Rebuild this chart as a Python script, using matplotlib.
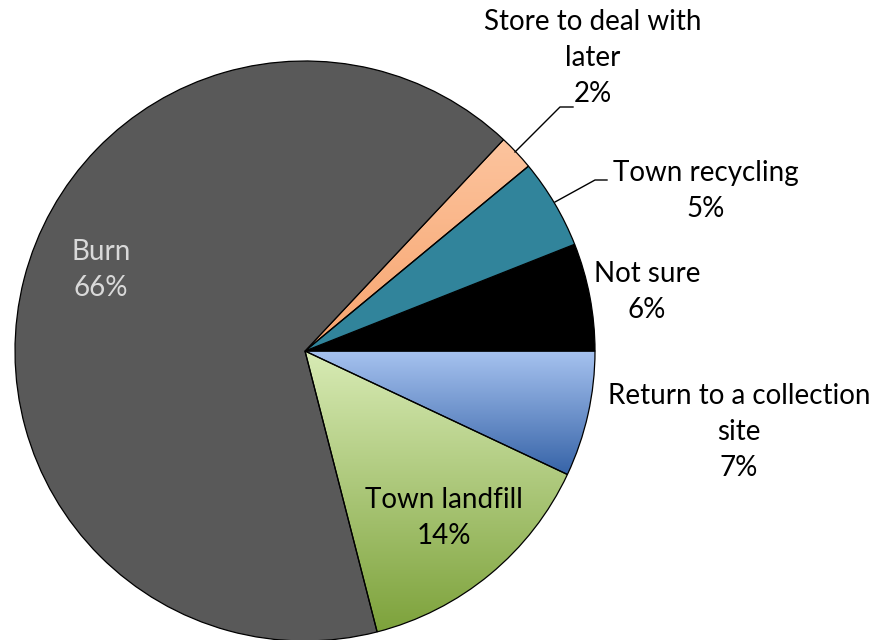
import numpy as np
import matplotlib
matplotlib.use("Agg")
import matplotlib.pyplot as plt
from matplotlib.colors import LinearSegmentedColormap

# slices, counter-clockwise from 3 o'clock
labels = ["Not sure", "Town recycling", "Store to deal with\nlater", "Burn",
          "Town landfill", "Return to a collection\nsite"]
shares = [6, 5, 2, 66, 14, 7]
colors = ["#000000", "#31849B", "#FAB68A", "#595959", "#C3DB95", "#8FB0E3"]
# top / bottom colours for the gradient slices
gradients = {2: ("#FCC49E", "#F7A46E"),
             4: ("#D8EBB5", "#7DA23B"),
             5: ("#A7C3F0", "#3764A8")}

W, H = 885, 640
cx, cy, R = 305, 351, 290

fig = plt.figure(figsize=(W / 100, H / 100), dpi=100)
ax = fig.add_axes([0, 0, 1, 1])

wedges, _ = ax.pie(shares, colors=colors, startangle=0, counterclock=False,
                   center=(cx, cy), radius=R,
                   wedgeprops=dict(edgecolor="black", linewidth=0.9))

for i, (c_top, c_bot) in gradients.items():
    w = wedges[i]
    w.set_facecolor("none")
    verts = w.get_path().vertices
    x0, x1 = verts[:, 0].min(), verts[:, 0].max()
    y0, y1 = verts[:, 1].min(), verts[:, 1].max()
    cmap = LinearSegmentedColormap.from_list("g%d" % i, [c_top, c_bot])
    grad = np.linspace(0, 1, 256).reshape(-1, 1)
    im = ax.imshow(grad, cmap=cmap, extent=(x0, x1, y1, y0), origin="upper",
                   aspect="auto", zorder=w.get_zorder() - 0.1)
    im.set_clip_path(w)

ax.set_xlim(0, W)
ax.set_ylim(H, 0)
ax.set_aspect("auto")
ax.axis("off")

font = dict(family=["Lato", "DejaVu Sans"], fontsize=20, ha="center",
            va="center", linespacing=1.5)

def lab(i, x, y, color="black"):
    ax.text(x, y, "%s\n%d%%" % (labels[i], shares[i]), color=color, **font)

lab(3, 101, 270, color="#D9D9D9")
lab(4, 444, 518)
lab(0, 647, 292)
lab(5, 739, 432)
lab(1, 706, 191)
lab(2, 593, 58)

# leader lines
ax.plot([515, 560, 573], [152, 107, 107], color="black", lw=1.0)
ax.plot([555, 595, 607], [202, 180, 180], color="black", lw=1.0)

fig.savefig("out.png", dpi=100)
